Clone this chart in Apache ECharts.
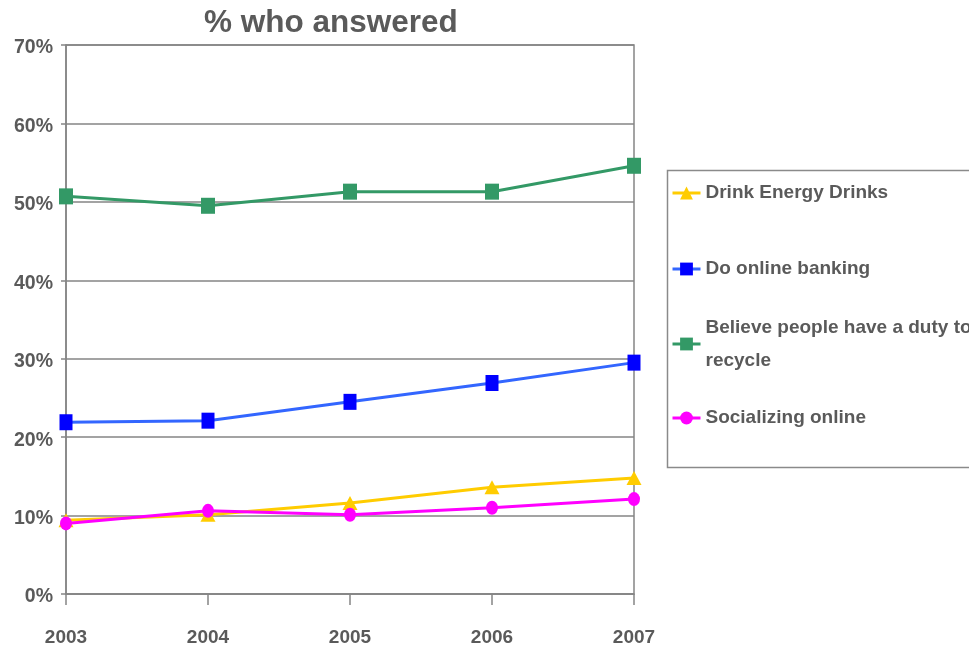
<!DOCTYPE html>
<html>
<head>
<meta charset="utf-8">
<script src="https://cdn.jsdelivr.net/npm/echarts@6/dist/echarts.min.js"></script>
<style>
  html, body { margin: 0; padding: 0; background: #ffffff; }
  #chart { width: 969px; height: 652px; }
</style>
</head>
<body>
<div id="chart"></div>
<script>
// Survey years and share of respondents (%) per answer
const years = ['2003', '2004', '2005', '2006', '2007'];
const energyDrinks = [9.4, 10.1, 11.6, 13.6, 14.8];
const onlineBanking = [21.9, 22.1, 24.5, 26.9, 29.5];
const dutyToRecycle = [50.7, 49.5, 51.3, 51.3, 54.6];
const socializingOnline = [9.0, 10.6, 10.1, 11.0, 12.1];
const yTicks = [0, 10, 20, 30, 40, 50, 60, 70];

const names = {
  energy: 'Drink Energy Drinks',
  banking: 'Do online banking',
  recycle: 'Believe people have a duty to recycle',
  social: 'Socializing online'
};

const labelFont = '"Liberation Sans Narrow", "Arial Narrow", "Liberation Sans", Arial, sans-serif';
const textGray = '#5a5a5a';
const axisGray = '#858585';

function legendFor(name, top, extra) {
  return Object.assign({
    data: [name],
    left: 671,
    top: top,
    orient: 'vertical',
    itemWidth: 28,
    itemHeight: 16,
    itemGap: 0,
    padding: 0,
    selectedMode: false,
    lineStyle: { width: 3 },
    textStyle: {
      fontFamily: labelFont,
      fontWeight: 'bold',
      fontSize: 19,
      color: textGray,
      lineHeight: 28
    }
  }, extra || {});
}

const chart = echarts.init(document.getElementById('chart'), null, { renderer: 'canvas' });

chart.setOption({
  animation: false,
  backgroundColor: '#ffffff',
  title: {
    text: '% who answered',
    left: 199,
    top: 2,
    textStyle: {
      fontFamily: '"Liberation Sans", Arial, sans-serif',
      fontWeight: 'bold',
      fontSize: 31.5,
      color: textGray
    }
  },
  graphic: [{
    type: 'rect',
    shape: { x: 667.5, y: 170.5, width: 320, height: 297 },
    style: { fill: 'none', stroke: '#8a8a8a', lineWidth: 1.5 },
    z: -1
  }],
  legend: [
    legendFor(names.energy, 193 - 14),
    legendFor(names.banking, 269 - 14),
    legendFor(names.recycle, 344 - 49.5, {
      formatter: () => 'Believe people have a duty to\nrecycle',
      textStyle: {
        fontFamily: labelFont,
        fontWeight: 'bold',
        fontSize: 19,
        color: textGray,
        lineHeight: 33,
        padding: [33, 0, 0, 0]
      }
    }),
    legendFor(names.social, 418 - 14)
  ],
  grid: {
    left: 66,
    right: 335,
    top: 45,
    bottom: 58,
    show: true,
    borderColor: axisGray,
    borderWidth: 1.5,
    containLabel: false
  },
  xAxis: {
    type: 'category',
    data: years,
    boundaryGap: false,
    axisLine: { lineStyle: { color: axisGray, width: 1.5 } },
    axisTick: { show: true, length: 11, alignWithLabel: true, lineStyle: { color: axisGray, width: 1.5 } },
    axisLabel: {
      margin: 34,
      fontFamily: labelFont,
      fontWeight: 'bold',
      fontSize: 19,
      color: textGray
    },
    splitLine: { show: false }
  },
  yAxis: {
    type: 'value',
    min: yTicks[0],
    max: yTicks[yTicks.length - 1],
    interval: 10,
    axisLine: { show: true, lineStyle: { color: axisGray, width: 1.5 } },
    axisTick: { show: true, length: 5, lineStyle: { color: axisGray, width: 1.5 } },
    axisLabel: {
      margin: 13,
      formatter: '{v|{value}%}',
      rich: {
        v: {
          padding: [6, 0, 0, 0],
          fontFamily: labelFont,
          fontWeight: 'bold',
          fontSize: 19.5,
          color: textGray
        }
      },
      fontFamily: labelFont,
      fontWeight: 'bold',
      fontSize: 19.5,
      color: textGray
    },
    splitLine: { show: true, lineStyle: { color: axisGray, width: 1.5 } }
  },
  series: [
    {
      name: names.energy,
      type: 'line',
      data: energyDrinks,
      symbol: 'triangle',
      symbolSize: [15, 14],
      lineStyle: { color: '#ffcc00', width: 3 },
      itemStyle: { color: '#ffcc00' }
    },
    {
      name: names.banking,
      type: 'line',
      data: onlineBanking,
      symbol: 'rect',
      symbolSize: [13, 16],
      lineStyle: { color: '#3366ff', width: 3 },
      itemStyle: { color: '#0000ff' }
    },
    {
      name: names.recycle,
      type: 'line',
      data: dutyToRecycle,
      symbol: 'rect',
      symbolSize: [14, 16],
      lineStyle: { color: '#339966', width: 3 },
      itemStyle: { color: '#339966' }
    },
    {
      name: names.social,
      type: 'line',
      data: socializingOnline,
      symbol: 'circle',
      symbolSize: [12, 14],
      lineStyle: { color: '#ff00ff', width: 3 },
      itemStyle: { color: '#ff00ff' }
    }
  ]
});
</script>
</body>
</html>
